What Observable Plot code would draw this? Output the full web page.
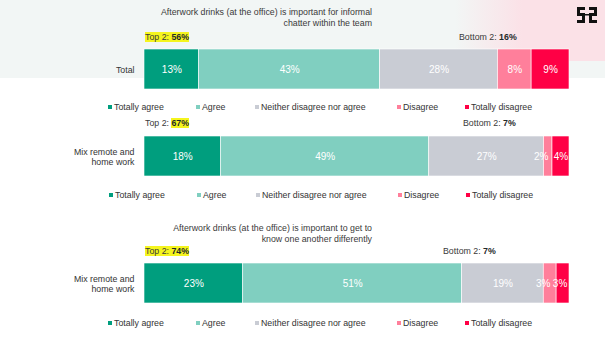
<!DOCTYPE html>
<html>
<head>
<meta charset="utf-8">
<script src="https://cdn.jsdelivr.net/npm/d3@7"></script>
<script src="https://cdn.jsdelivr.net/npm/@observablehq/plot@0.6"></script>
<style>
  html, body { margin: 0; padding: 0; background: #fff; }
  #root { position: relative; width: 605px; height: 354px; overflow: hidden; font-family: "Liberation Sans", Arial, sans-serif; color: #3a3a3a; }
  .abs { position: absolute; white-space: nowrap; }
  .title { font-size: 8.8px; line-height: 11px; text-align: right; color: #3a3a3a; }
  .tb { font-size: 8.8px; line-height: 11px; color: #3a3a3a; }
  .tb b { color: #1f2a2a; }
  .hl { background: #f5f51e; }
  .leg { font-size: 8.8px; line-height: 11px; color: #333; }
  .sw { display: inline-block; width: 4px; height: 4px; margin-right: 2px; vertical-align: 1px; }
</style>
</head>
<body>
<div id="root"></div>
<script>
// ---- data ----
const categories = ["Totally agree", "Agree", "Neither disagree nor agree", "Disagree", "Totally disagree"];
const colors = ["#009e7e", "#80cfc0", "#c9ccd4", "#ff7f9b", "#ff0045"];
const rowLabels = ["Total", "Mix remote and\nhome work", "Mix remote and\nhome work"];
const valuesTotal = [13, 43, 28, 8, 9];
const valuesMix1 = [18, 49, 27, 2, 4];
const valuesMix2 = [23, 51, 19, 3, 3];
const top2 = [56, 67, 74];
const bottom2 = [16, 7, 7];
const titles = [
  ["Afterwork drinks (at the office) is important for informal", "chatter within the team"],
  null,
  ["Afterwork drinks (at the office) is important to get to", "know one another differently"]
];

// ---- layout (not data) ----
const blocks = [
  {values: valuesTotal, label: rowLabels[0], titleTop: 7, tbY: 32, bottomX: 459, barY: 49, legY: 102, legShift: 0, hl: "all"},
  {values: valuesMix1, label: rowLabels[1], titleTop: null, tbY: 118, bottomX: 463, barY: 136, legY: 190, legShift: 1, hl: "num"},
  {values: valuesMix2, label: rowLabels[2], titleTop: 223, tbY: 246, bottomX: 443, barY: 263, legY: 318, legShift: 0, hl: "all"}
];
const legendX = [108, 196, 255, 397, 465];
// small segment labels are nudged left so they don't collide
const labelShift = d => (d.cat === "Disagree" && d.value < 5) ? -7 : (d.cat === "Totally disagree" && d.value < 4) ? -3 : 0;
const shifts = [0, -3, -7];

const root = document.getElementById("root");
function add(html, cls, left, top, extra) {
  const d = document.createElement("div");
  d.className = "abs " + cls;
  d.style.left = left + "px";
  d.style.top = top + "px";
  if (extra) Object.assign(d.style, extra);
  d.innerHTML = html;
  root.appendChild(d);
  return d;
}

// background band + pink corner
add("", "", 0, 0, {width: "605px", height: "78px", background: "#f2f6f5"});
add("", "", 455, 0, {width: "150px", height: "61px", background: "linear-gradient(to right, rgba(252,226,232,0), #fbe1e7 45%, #fbe1e7)"});
// logo
add(`<svg width="20" height="16" viewBox="0 0 20 16" fill="#111">
  <rect x="0" y="0" width="8" height="3"/><rect x="0" y="3" width="3" height="3"/><rect x="0" y="6" width="8" height="3"/>
  <rect x="5" y="9" width="3" height="4"/><rect x="0" y="13" width="8" height="3"/>
  <rect x="12" y="0" width="8" height="3"/><rect x="17" y="3" width="3" height="3"/><rect x="12" y="6" width="8" height="3"/>
  <rect x="12" y="9" width="3" height="4"/><rect x="12" y="13" width="8" height="3"/>
  <rect x="8" y="7" width="4" height="1.5"/></svg>`, "", 577, 7);

blocks.forEach((b, i) => {
  const t = titles[i];
  if (t) add(t.join("<br>"), "title", 0, b.titleTop, {width: "372px"});
  const topTxt = b.hl === "all"
    ? `<span class="hl">Top 2: <b>${top2[i]}%</b></span>`
    : `Top 2: <b class="hl">${top2[i]}%</b>`;
  add(topTxt, "tb", 145, b.tbY);
  add(`Bottom 2: <b>${bottom2[i]}%</b>`, "tb", b.bottomX, b.tbY);

  const data = categories.map((c, k) => ({row: "r", cat: c, value: b.values[k]}));
  const chart = Plot.plot({
    width: 605,
    height: 40,
    marginLeft: 144,
    marginRight: 36,
    marginTop: 0,
    marginBottom: 0,
    x: {domain: [0, 1], axis: null},
    y: {axis: null, padding: 0},
    color: {domain: categories, range: colors},
    style: {fontFamily: "Liberation Sans, Arial, sans-serif", background: "transparent", overflow: "visible"},
    marks: [
      Plot.barX(data, Plot.stackX({x: "value", y: "row", fill: "cat", offset: "normalize", stroke: "white", strokeWidth: 0.6})),
      ...shifts.map(s => Plot.textX(data, Plot.stackX({
        x: "value", y: "row", z: "cat", offset: "normalize",
        text: d => labelShift(d) === s ? d.value + "%" : "",
        fill: "white", fontSize: 10, dx: s
      }))),
      Plot.text([b.label], {x: () => 0, y: () => "r", text: d => d, textAnchor: "end", dx: -10, fill: "#333", fontSize: 8.8, lineHeight: 1.15})
    ]
  });
  chart.style.position = "absolute";
  chart.style.left = "0px";
  chart.style.top = b.barY + "px";
  root.appendChild(chart);

  categories.forEach((c, k) => {
    add(`<span class="sw" style="background:${colors[k]}"></span>${c}`, "leg", legendX[k] + b.legShift, b.legY);
  });
});
</script>
</body>
</html>
